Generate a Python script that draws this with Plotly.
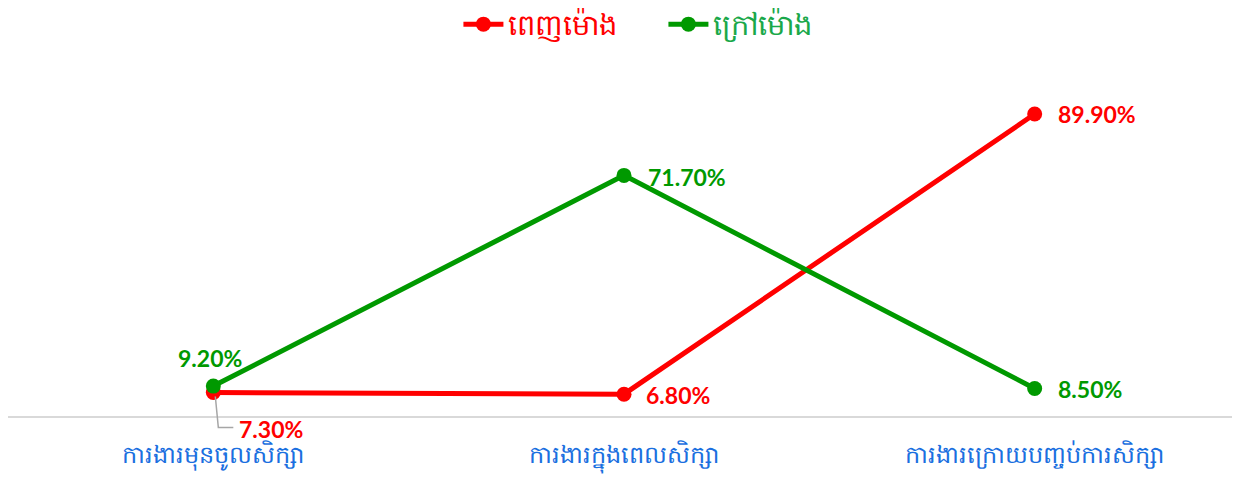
import plotly.graph_objects as go

categories = ["ការងារមុនចូលសិក្សា", "ការងារក្នុងពេលសិក្សា", "ការងារក្រោយបញ្ចប់ការសិក្សា"]
full_time = [7.3, 6.8, 89.9]
part_time = [9.2, 71.7, 8.5]
series_names = ["ពេញម៉ោង", "ក្រៅម៉ោង"]

RED = "#FF0000"
GREEN = "#009900"
LEG_GREEN = "#1AA84A"
BLUE = "#1A6FE0"
NUM_FONT = "Lato"

fig = go.Figure()
fig.add_trace(go.Scatter(
    x=categories, y=full_time, mode="lines+markers",
    name=f"<span style='color:{RED}'>{series_names[0]}</span>",
    line=dict(color=RED, width=5), marker=dict(size=15, color=RED),
))
fig.add_trace(go.Scatter(
    x=categories, y=part_time, mode="lines+markers",
    name=f"<span style='color:{LEG_GREEN}'>{series_names[1]}</span>",
    line=dict(color=GREEN, width=5), marker=dict(size=15, color=GREEN),
))

def lab(x, y, color, xshift=0, yshift=0, xanchor="left"):
    fig.add_annotation(x=x, y=y, text=f"<b>{y:.2f}%</b>", showarrow=False,
                       xanchor=xanchor, yanchor="middle", xshift=xshift, yshift=yshift,
                       font=dict(family=NUM_FONT, size=23, color=color))

# full-time labels
lab(categories[0], full_time[0], RED, xshift=24, yshift=-37)
lab(categories[1], full_time[1], RED, xshift=20, yshift=-1)
lab(categories[2], full_time[2], RED, xshift=21, yshift=0)
# part-time labels
lab(categories[0], part_time[0], GREEN, xshift=-3, yshift=28, xanchor="center")
lab(categories[1], part_time[1], GREEN, xshift=22, yshift=-2)
lab(categories[2], part_time[2], GREEN, xshift=21, yshift=-1)

# leader line for 7.30%
fig.add_shape(type="path", xref="x", yref="y", xsizemode="pixel", ysizemode="pixel",
              xanchor=categories[0], yanchor=full_time[0],
              path="M 2,-4 L 5,-35 L 20,-35",
              line=dict(color="#A6A6A6", width=1.5))

# baseline at zero
fig.add_shape(type="line", xref="paper", yref="y", x0=0, x1=1, y0=0, y1=0,
              line=dict(color="#D9D9D9", width=2), layer="below")

fig.update_layout(
    width=1240, height=480,
    margin=dict(l=0, r=8, t=72, b=50),
    paper_bgcolor="white", plot_bgcolor="white",
    showlegend=True,
    legend=dict(orientation="h", x=0.532, xanchor="center", y=0.966, yanchor="middle",
                yref="container", font=dict(size=29), itemwidth=40, traceorder="normal",
                entrywidth=150, entrywidthmode="pixels"),
    xaxis=dict(showgrid=False, zeroline=False, showline=False, automargin=False,
               ticks="", tickfont=dict(size=24, color=BLUE), range=[-0.5, 2.5], fixedrange=True),
    yaxis=dict(range=[-6.2, 100], visible=False, fixedrange=True, automargin=False),
)

fig.write_html("out.html")
